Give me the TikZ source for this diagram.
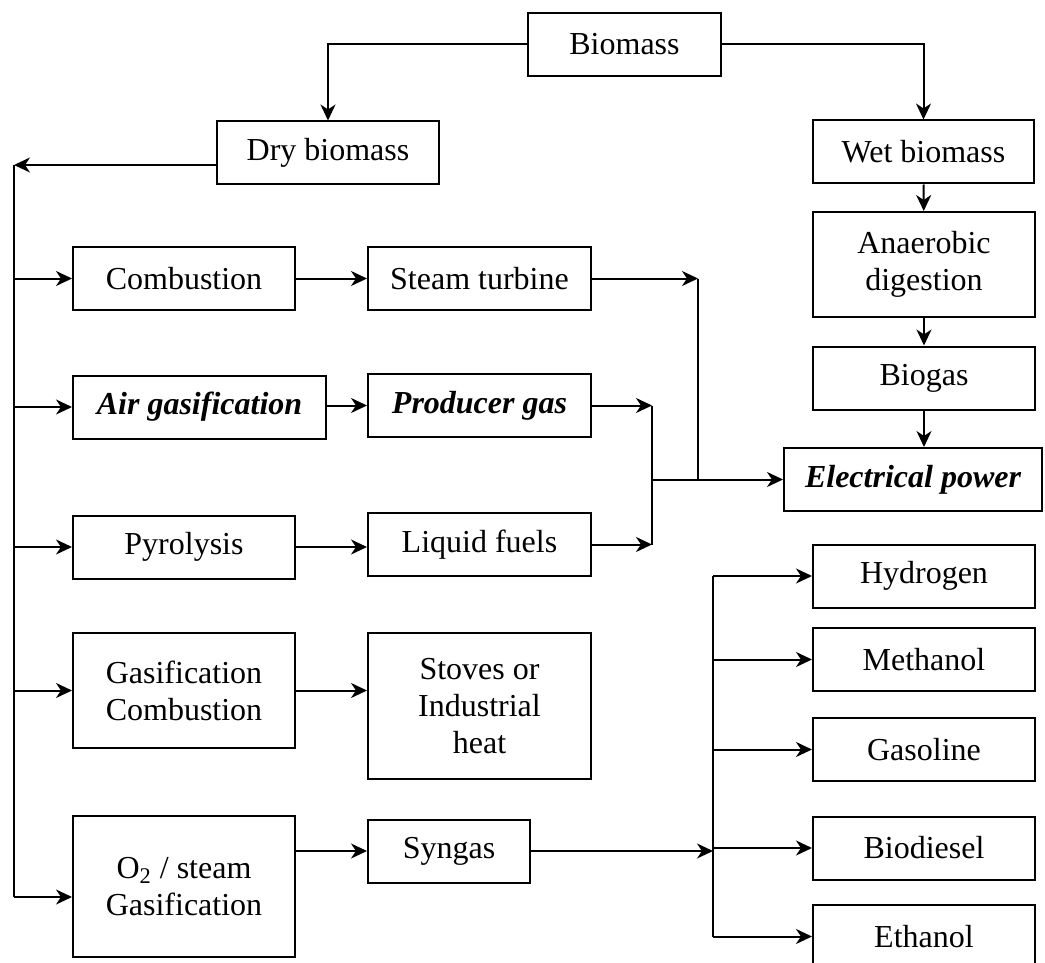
\documentclass[tikz,border=0pt]{standalone}
\usepackage{fontspec}
\setmainfont{Liberation Serif}
\usepackage{tikz}
\usetikzlibrary{arrows.meta, positioning, calc}

\begin{document}
\begin{tikzpicture}[
          x=0.5pt, y=-0.5pt,
          box/.style={draw, line width=1pt, minimum width=111pt, minimum height=31.5pt,
                      inner sep=0pt, align=center, font=\fontsize{16}{18.5}\selectfont},
          hl/.style={font=\fontsize{16}{18.5}\selectfont\bfseries\itshape},
          arr/.style={-{Stealth[length=8pt, width=7.5pt, inset=2.5pt]}, line width=1pt},
          ln/.style={line width=1pt},
        ]
        \useasboundingbox (0,0) rectangle (1045,963);

        \node[box, minimum width=96.5pt] (bio) at (624.5,44.5) {Biomass};
        \node[box] (dry) at (328,153) {Dry biomass};
        \node[box, minimum width=110.5pt] (wet) at (923.5,152) {Wet biomass};
        \node[box, minimum height=52.5pt] (anae) at (924,264.5) {Anaerobic\\digestion};
        \node[box] (biogas) at (924,378) {Biogas};
        \node[box, hl, minimum width=129pt] (elec) at (913,479.5) {Electrical power};

        \node[box] (comb) at (184,278.5) {Combustion};
        \node[box, minimum width=111.5pt] (steam) at (479.5,278.5) {Steam turbine};
        \node[box, hl, minimum width=126.5pt] (airgas) at (199.5,407) {Air gasification};
        \node[box, hl, minimum width=111.5pt] (prodgas) at (479.5,405.5) {Producer gas};
        \node[box] (pyro) at (184,547) {Pyrolysis};
        \node[box, minimum width=111.5pt] (liquid) at (479.5,544.5) {Liquid fuels};
        \node[box, minimum height=57.5pt] (gascomb) at (184,690.5) {Gasification\\Combustion};
        \node[box, minimum width=111.5pt, minimum height=73pt] (stoves) at (479.5,706) {Stoves or\\Industrial\\heat};
        \node[box, minimum height=70.5pt] (steamgas) at (184,886.5) {O\textsubscript{2} / steam\\Gasification};
        \node[box, minimum width=81pt] (syngas) at (449,851) {Syngas};

        \node[box] (hydro) at (924,576) {Hydrogen};
        \node[box] (metha) at (924,659.5) {Methanol};
        \node[box] (gasol) at (924,749.5) {Gasoline};
        \node[box] (biod) at (924,848) {Biodiesel};
        \node[box] (etha) at (924,936.5) {Ethanol};

        \coordinate (drybus) at (14,165);
        \coordinate (drybot) at (14,897);
        \coordinate (stjoin) at (698,278.5);
        \coordinate (pgjoin) at (652,405.5);
        \coordinate (lfjoin) at (652,544.5);
        \coordinate (epjoin) at (652,479.5);
        \coordinate (sgjoin) at (713,851);

        \draw[arr] (bio.west) -| (dry.north);
        \draw[arr] (bio.east) -| (wet.north);
        \draw[arr] ([yshift=-6pt]dry.west) -- (drybus);
        \draw[ln] (drybus) -- (drybot);

        \draw[arr] (drybus |- comb.west) -- (comb.west);
        \draw[arr] (drybus |- airgas.west) -- (airgas.west);
        \draw[arr] (drybus |- pyro.west) -- (pyro.west);
        \draw[arr] (drybus |- gascomb.west) -- (gascomb.west);
        \draw[arr] (drybot) -- (drybot -| steamgas.west);

        \draw[arr] (comb) -- (steam);
        \draw[arr] (prodgas.west -| airgas.east) -- (prodgas.west);
        \draw[arr] (pyro.east) -- (pyro.east -| liquid.west);
        \draw[arr] (gascomb.east) -- (gascomb.east -| stoves.west);
        \draw[arr] (syngas.west -| steamgas.east) -- (syngas.west);

        \draw[arr] (steam.east) -- (stjoin);
        \draw[ln] (stjoin) -- (stjoin |- epjoin);
        \draw[arr] (prodgas.east) -- (pgjoin);
        \draw[arr] (liquid.east) -- (lfjoin);
        \draw[ln] (pgjoin) -- (lfjoin);
        \draw[arr] (epjoin) -- (elec.west);

        \draw[arr] (wet) -- (anae);
        \draw[arr] (anae) -- (biogas);
        \draw[arr] (biogas.south) -- (biogas.south |- elec.north);

        \draw[arr] (syngas.east) -- (sgjoin);
        \draw[ln] (sgjoin |- hydro.west) -- (sgjoin |- etha.west);
        \draw[arr] (sgjoin |- hydro.west) -- (hydro.west);
        \draw[arr] (sgjoin |- metha.west) -- (metha.west);
        \draw[arr] (sgjoin |- gasol.west) -- (gasol.west);
        \draw[arr] (sgjoin |- biod.west) -- (biod.west);
        \draw[arr] (sgjoin |- etha.west) -- (etha.west);
      \end{tikzpicture}
\end{document}
